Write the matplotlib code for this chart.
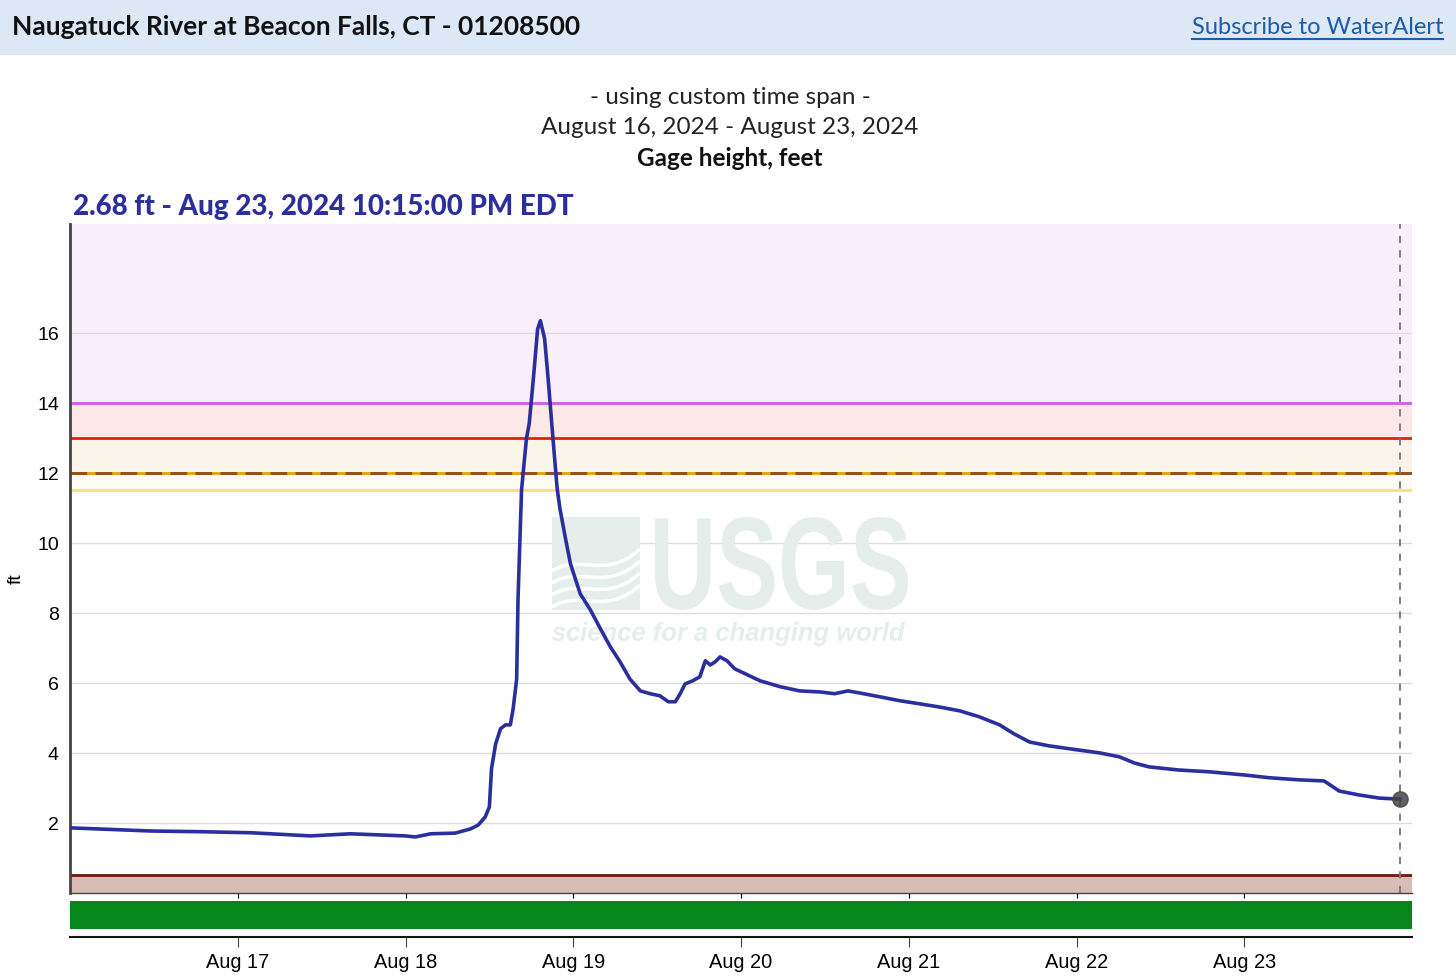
import datetime as dt
import matplotlib
matplotlib.use("Agg")
import matplotlib.pyplot as plt
import matplotlib.dates as mdates
from matplotlib.patches import Rectangle, PathPatch
from matplotlib.lines import Line2D
from matplotlib.path import Path
from matplotlib.textpath import TextPath
from matplotlib.font_manager import FontProperties
from matplotlib.transforms import Affine2D

# hours since Aug 16 2024 00:00 and gage height (ft)
hours = [0, 11.6, 18.7, 25.9, 34.4, 40.1, 48.0, 49.4, 51.6, 55.1, 57.3, 58.4, 59.4, 60.0,
         60.3, 60.9, 61.6, 62.3, 63.0, 63.4, 63.9, 64.1, 64.6, 65.3, 65.7, 66.3, 66.9, 67.3,
         67.9, 68.4, 69.1, 69.7, 70.1, 70.9, 71.6, 73.0, 74.4, 75.9, 77.3, 78.7, 80.1, 81.6,
         83.0, 84.4, 85.6, 86.6, 87.3, 88.0, 89.1, 90.1, 90.9, 91.6, 92.3, 93.0, 94.0, 95.1,
         96.6, 98.7, 101.6, 104.4, 107.3, 109.4, 111.3, 113.0, 115.9, 118.7, 121.6, 124.4,
         127.3, 130.1, 133.0, 135.1, 137.3, 140.1, 144.0, 147.3, 150.1, 152.3, 154.4, 158.7,
         163.0, 168.0, 171.6, 175.9, 179.4, 180.1, 181.6, 184.4, 187.3, 190.25]
gage_ft = [1.86, 1.77, 1.75, 1.72, 1.63, 1.69, 1.63, 1.60, 1.69, 1.71, 1.83, 1.94, 2.17, 2.46,
           3.54, 4.26, 4.69, 4.80, 4.80, 5.26, 6.10, 8.40, 11.5, 12.97, 13.4, 14.7, 16.1, 16.34,
           15.83, 14.7, 12.97, 11.54, 10.97, 10.11, 9.40, 8.54, 8.10, 7.54, 7.03, 6.60, 6.11, 5.77,
           5.69, 5.63, 5.46, 5.46, 5.69, 5.97, 6.06, 6.17, 6.63, 6.51, 6.60, 6.74, 6.63, 6.40,
           6.26, 6.06, 5.89, 5.77, 5.74, 5.69, 5.77, 5.71, 5.60, 5.49, 5.40, 5.31,
           5.20, 5.03, 4.80, 4.54, 4.31, 4.20, 4.09, 4.00, 3.89, 3.71, 3.60, 3.51,
           3.46, 3.37, 3.29, 3.23, 3.20, 3.11, 2.91, 2.80, 2.71, 2.68]

start = dt.datetime(2024, 8, 16)
times = [start + dt.timedelta(hours=h) for h in hours]

# flood stage levels (ft)
major_ft = 14
moderate_ft = 13
flood_ft = 12
action_ft = 11.5
low_ft = 0.5
y_ticks = [2, 4, 6, 8, 10, 12, 14, 16]
x_days = [dt.datetime(2024, 8, d) for d in range(17, 24)]

W, H = 1456, 978
fig = plt.figure(figsize=(W / 100, H / 100), dpi=100)
sans = ["Lato", "DejaVu Sans"]
tick_font = ["Liberation Sans", "DejaVu Sans"]

# header band
fig.patches.append(Rectangle((0, 1 - 55 / H), 1, 55 / H, transform=fig.transFigure,
                             color="#dce8f6", zorder=0))
fig.text(12 / W, 1 - 27 / H, "Naugatuck River at Beacon Falls, CT - 01208500",
         family=sans, weight="bold", fontsize=19, va="center", color="#111111")
link = fig.text(1443 / W, 1 - 27 / H, "Subscribe to WaterAlert", family=sans,
                fontsize=17, va="center", ha="right", color="#1f5ba8")

fig.text(730 / W, 1 - 97 / H, "- using custom time span -", family=sans, fontsize=17.5,
         ha="center", va="center", color="#222222")
fig.text(730 / W, 1 - 128 / H, "August 16, 2024 - August 23, 2024", family=sans, fontsize=17.5,
         ha="center", va="center", color="#222222")
fig.text(730 / W, 1 - 159 / H, "Gage height, feet", family=sans, fontsize=17.5, weight="bold",
         ha="center", va="center", color="#111111")
fig.text(73 / W, 1 - 207 / H, "2.68 ft - Aug 23, 2024 10:15:00 PM EDT", family=sans,
         fontsize=20, weight="black", ha="left", va="center", color="#2b2f9e")

x0, x1 = 70 / W, 1412 / W
ax = fig.add_axes([x0, 1 - 894 / H, x1 - x0, 669 / H])
ax.set_xlim(start, dt.datetime(2024, 8, 24))
ax.set_ylim(0, 19.1)

# stage bands
ax.axhspan(major_ft, 19.1, color="#f9eefc", zorder=0, lw=0)
ax.axhspan(moderate_ft, major_ft, color="#fce8e7", zorder=0, lw=0)
ax.axhspan(flood_ft, moderate_ft, color="#fbf4e8", zorder=0, lw=0)
ax.axhspan(action_ft, flood_ft, color="#fefcf2", zorder=0, lw=0)
ax.axhspan(0, low_ft, color="#d8bcb8", zorder=0, lw=0)
for yv in y_ticks:
    ax.axhline(yv, color="#dddddd", lw=1, zorder=0.5)
ax.axhline(major_ft, color="#d35ae6", lw=2, zorder=1)
ax.axhline(moderate_ft, color="#e4200f", lw=2, zorder=1)
ax.axhline(flood_ft, color="#e8a200", lw=2, zorder=1)
ax.axhline(flood_ft, color="#8b4a2b", lw=2, dashes=(6, 3), zorder=1.1)
ax.axhline(action_ft, color="#f8e07a", lw=2, zorder=1)
ax.axhline(low_ft, color="#6b1a0a", lw=2, zorder=1)

# USGS watermark (pixel boxes, top-left origin)
wm = "#e5eeeb"
to_fig = Affine2D().scale(1 / W, 1 / H) + fig.transFigure


def text_in_box(s, prop, left, top, right, bottom):
    tp = TextPath((0, 0), s, size=10, prop=prop)
    e = tp.get_extents()
    tr = (Affine2D().translate(-e.x0, -e.y0)
          .scale((right - left) / e.width, (bottom - top) / e.height)
          .translate(left, H - bottom))
    ax.add_patch(PathPatch(tr.transform_path(tp), color=wm, lw=0, zorder=0.6,
                           transform=to_fig))


bold = FontProperties(family="Liberation Sans", weight="bold")
ital = FontProperties(family="Liberation Sans", weight="bold", style="italic")
text_in_box("USGS", bold, 655, 518, 908, 611)
text_in_box("science for a changing world", ital, 552, 623, 905, 647)
ax.add_patch(Rectangle((552, H - 611), 88, 93, color=wm, lw=0, zorder=0.6, transform=to_fig))
for k in range(4):
    yb = H - 560 - 12 * k
    wave = Path([(552, yb - 12), (580, yb + 6), (605, yb - 22), (640, yb + 10)],
                [Path.MOVETO, Path.CURVE4, Path.CURVE4, Path.CURVE4])
    ax.add_patch(PathPatch(wave, fc="none", ec="white", lw=2.5, zorder=0.61, transform=to_fig))

ax.plot(times, gage_ft, color="#2b2f9e", lw=2.6, zorder=3)
ax.axvline(times[-1], color="#777777", lw=1.3, dashes=(4, 4), zorder=2)
ax.plot([times[-1]], [gage_ft[-1]], "o", ms=11, color="#444444", alpha=0.85, zorder=4)

ax.set_yticks(y_ticks)
ax.tick_params(axis="y", length=0, labelsize=14, pad=8)
for lab in ax.get_yticklabels():
    lab.set_family(tick_font)
ax.set_xticks([])
for s in ["top", "right"]:
    ax.spines[s].set_visible(False)
ax.spines["left"].set_color("#444444")
ax.spines["left"].set_linewidth(2)
ax.spines["bottom"].set_color("#444444")
ax.spines["bottom"].set_linewidth(1)
ax.set_ylabel("ft", fontsize=14, family=tick_font)
ax.yaxis.set_label_coords(-0.034, 0.472)

# status bar and date axis
axb = fig.add_axes([x0, 1 - 938 / H, x1 - x0, 36 / H], sharex=ax)
axb.set_ylim(0, 36)
axb.axhspan(8, 36, color="#07861a", lw=0)
for s in ["top", "right", "left"]:
    axb.spines[s].set_visible(False)
axb.spines["bottom"].set_color("#111111")
axb.spines["bottom"].set_linewidth(1.5)
axb.set_yticks([])
axb.set_xticks(x_days)
axb.xaxis.set_major_formatter(mdates.DateFormatter("%b %d"))
axb.tick_params(axis="x", length=7, color="#444444", labelsize=14.4, pad=4)
for lab in axb.get_xticklabels():
    lab.set_family(tick_font)

# underline for link
fig.canvas.draw()
bb = link.get_window_extent().transformed(fig.transFigure.inverted())
fig.lines.append(Line2D([bb.x0, bb.x1], [bb.y0 - 2 / H, bb.y0 - 2 / H],
                        transform=fig.transFigure, color="#1f5ba8", lw=1.5))

fig.savefig("out.png", dpi=100)
